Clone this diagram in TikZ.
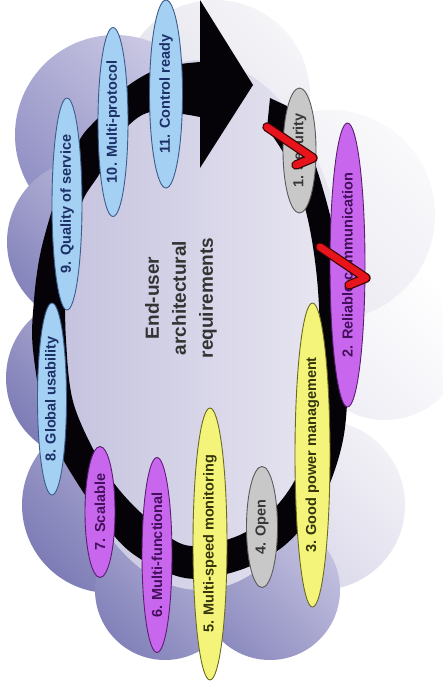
\documentclass[tikz,border=0pt]{standalone}
\usepackage{fontspec}
\setmainfont{Liberation Sans}
\usetikzlibrary{shapes.geometric}

% palette
\definecolor{ringcol}{HTML}{050308}
\definecolor{reqblue}{HTML}{A3D0F3}
\definecolor{reqblueline}{HTML}{3C5C8C}
\definecolor{reqbluetext}{HTML}{1C2F66}
\definecolor{reqpurple}{HTML}{C966EE}
\definecolor{reqpurpleline}{HTML}{5A1E72}
\definecolor{reqpurpletext}{HTML}{43105C}
\definecolor{reqyellow}{HTML}{F4F47A}
\definecolor{reqyellowline}{HTML}{6A6A22}
\definecolor{reqyellowtext}{HTML}{35350A}
\definecolor{reqgray}{HTML}{C8C8C8}
\definecolor{reqgrayline}{HTML}{5A5A5A}
\definecolor{reqgraytext}{HTML}{383838}
\definecolor{tickred}{HTML}{E8141B}
\definecolor{tickline}{HTML}{3A0505}
% cloud tones
\definecolor{paleA}{HTML}{EFEEF5}
\definecolor{paleB}{HTML}{E8E7F0}
\definecolor{paleBl}{HTML}{F9F9FB}
\definecolor{paleC}{HTML}{D6D4E8}
\definecolor{paleCl}{HTML}{F2F1F6}
\definecolor{paleD}{HTML}{DCDBE8}
\definecolor{paleDl}{HTML}{F5F5F8}
\definecolor{duskT}{HTML}{908FC4}
\definecolor{duskTl}{HTML}{CDCBE5}
\definecolor{duskA}{HTML}{8483BB}
\definecolor{duskBl}{HTML}{C4C2E0}
\definecolor{duskC}{HTML}{7D7CB6}
\definecolor{duskCl}{HTML}{BFBDDD}
\definecolor{duskDl}{HTML}{BAB8DA}
\definecolor{duskE}{HTML}{8281B9}
\definecolor{duskEl}{HTML}{B9B7DA}
\definecolor{duskF}{HTML}{8C8BBF}
\definecolor{duskFl}{HTML}{C4C2E0}
\definecolor{innerL}{HTML}{C4C1DE}
\definecolor{innerR}{HTML}{EAE9F2}

\tikzset{
  lobe/.style 2 args={left color=#1, right color=#2, shading angle=135},
  req/.style={ellipse, rotate=90, inner sep=0pt, line width=0.9pt,
    font=\bfseries\fontsize{14.5}{16}\selectfont},
  bluereq/.style={req, fill=reqblue, draw=reqblueline, text=reqbluetext},
  purplereq/.style={req, fill=reqpurple, draw=reqpurpleline, text=reqpurpletext},
  yellowreq/.style={req, fill=reqyellow, draw=reqyellowline, text=reqyellowtext},
  grayreq/.style={req, fill=reqgray, draw=reqgrayline, text=reqgraytext},
  tickout/.style={line width=9.5pt, draw=tickline, line join=round, line cap=round},
  tickin/.style={line width=7pt, draw=tickred, line join=round, line cap=round},
}

\begin{document}
\begin{tikzpicture}[x=1pt,y=-1pt]
\useasboundingbox (0,0) rectangle (442,690);
\fill[white] (0,0) rectangle (442,690);

% cloud: pale lobes on the right
\shade[lobe={paleA}{white}] (385,340) circle[radius=80pt];
\shade[lobe={paleB}{paleBl}] (330,215) circle[radius=105pt];
\shade[lobe={paleC}{paleCl}] (320,505) circle[radius=85pt];
\shade[lobe={paleD}{paleDl}] (215,95) circle[radius=95pt];
% cloud: darker lobes on the left and bottom
\shade[lobe={duskT}{duskTl}] (115,135) circle[radius=100pt];
\shade[lobe={duskA}{duskBl}] (90,242) circle[radius=83pt];
\shade[lobe={duskC}{duskCl}] (88,378) circle[radius=82pt];
\shade[lobe={duskC}{duskDl}] (110,505) circle[radius=88pt];
\shade[lobe={duskE}{duskEl}] (165,590) circle[radius=70pt];
\shade[lobe={duskF}{duskFl}] (270,590) circle[radius=70pt];

% light inner field
\shade[left color=innerL, right color=innerR] (200,325) ellipse [x radius=150pt, y radius=265pt];

% circular arrow
\fill[ringcol]
  plot[smooth, tension=0.55] coordinates {(287,106) (310,150) (330,215) (345,290) (348,370)
    (343,440) (322,500) (285,545) (240,570) (185,578) (128,550) (85,495) (48,428) (33,350)
    (34,300) (40,255) (52,210) (66,168) (82,136) (100,116) (125,88) (160,68) (200,62)}
  -- (200,0) -- (253,85) -- (200,168)
  -- plot[smooth, tension=0.55] coordinates {(200,117) (150,112) (120,135) (100,173) (83,200)
    (72,240) (66,290) (66,340) (74,405) (105,470) (140,512) (185,545) (235,537) (268,515)
    (295,480) (313,430) (320,380) (318,290) (308,220) (290,165) (267,128)}
  -- (270,98) -- cycle;

% requirement ovals
\node[grayreq,   minimum width=125pt, minimum height=33pt] (r1)  at (299.5,150.5) {1. Security};
\node[purplereq, minimum width=284pt, minimum height=35pt] (r2)  at (347.5,265) {2. Reliable communication};
\node[yellowreq, minimum width=304pt, minimum height=35pt] (r3)  at (312.5,455) {3. Good power management};
\node[grayreq,   minimum width=121pt, minimum height=31pt] (r4)  at (262,527) {4. Open};
\node[yellowreq, minimum width=272pt, minimum height=34pt] (r5)  at (210,544) {5. Multi-speed monitoring};
\node[purplereq, minimum width=195pt, minimum height=30pt] (r6)  at (157,555) {6. Multi-functional};
\node[purplereq, minimum width=131pt, minimum height=30pt] (r7)  at (100,512) {7. Scalable};
\node[bluereq,   minimum width=192pt, minimum height=29pt] (r8)  at (52,399) {8. Global usability};
\node[bluereq,   minimum width=212pt, minimum height=30pt] (r9)  at (67,204) {9. Quality of service};
\node[bluereq,   minimum width=189pt, minimum height=30pt] (r10) at (113,122) {10. Multi-protocol};
\node[bluereq,   minimum width=188pt, minimum height=33pt] (r11) at (166,94) {11. Control ready};

% title in the middle
\node[rotate=90, align=center, text=black!80, font=\bfseries\fontsize{19}{27}\selectfont] (title)
  at (181,298) {End-user\\architectural\\requirements};

% red hooks
\draw[tickout] (267,127) -- (313,158) -- (296,165);
\draw[tickin]  (267,127) -- (313,158) -- (296,165);
\draw[tickout] (320,247) -- (366,278) -- (349,285);
\draw[tickin]  (320,247) -- (366,278) -- (349,285);
\end{tikzpicture}
\end{document}
